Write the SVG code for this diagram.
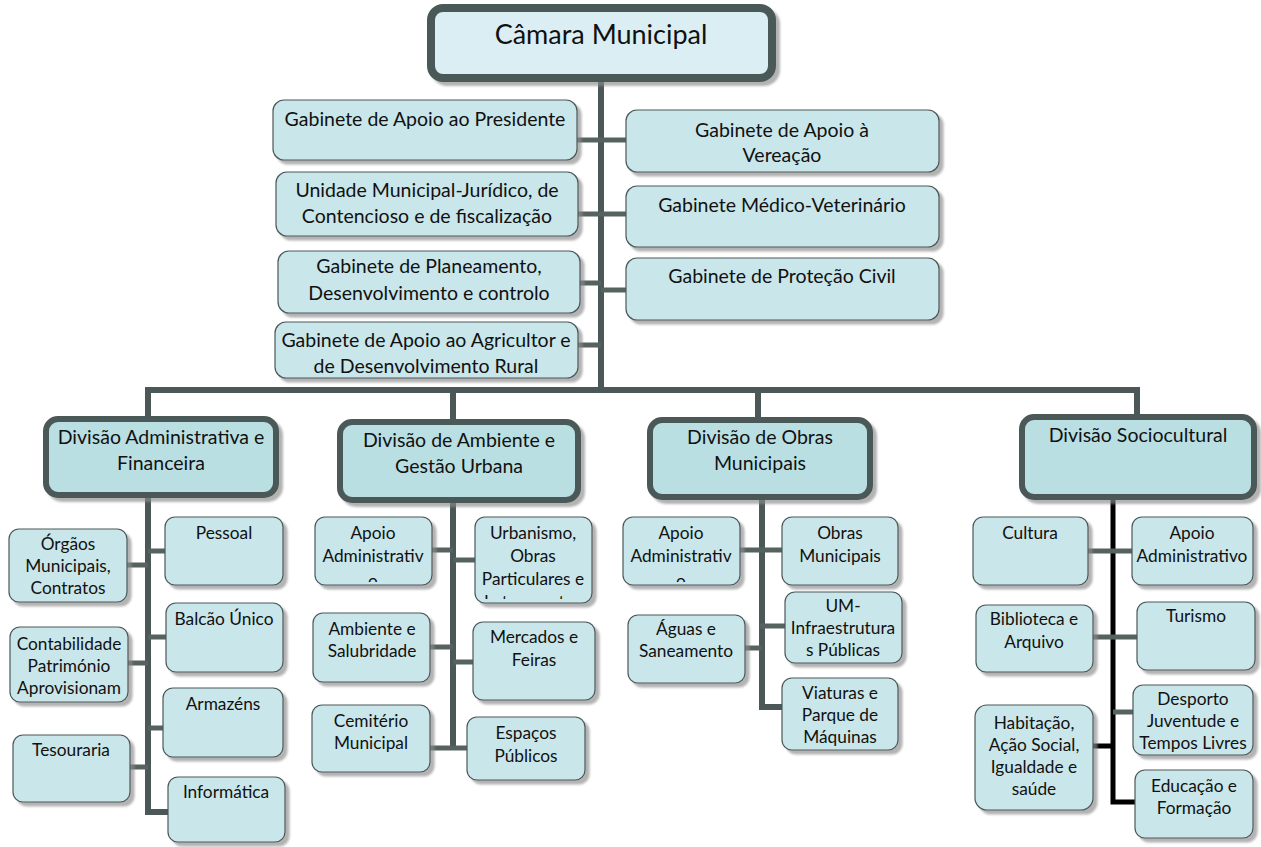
<svg xmlns="http://www.w3.org/2000/svg" width="1261" height="847" viewBox="0 0 1261 847">
<defs>
<filter id="sh" x="-10%" y="-10%" width="130%" height="140%">
<feDropShadow dx="4" dy="4" stdDeviation="1.2" flood-color="#8a8a8a" flood-opacity="0.65"/>
</filter>
<clipPath id="cA"><rect x="315" y="517" width="117" height="65"/></clipPath>
<clipPath id="cU"><rect x="475" y="517" width="117" height="82"/></clipPath>
<clipPath id="cO"><rect x="623" y="517" width="117" height="65"/></clipPath>
</defs>
<style>
.top{fill:#daeef3;stroke:#4c5858;stroke-width:8;filter:url(#sh)}
.dv{fill:#b9dfe3;stroke:#4c5858;stroke-width:6;filter:url(#sh)}
.bx{fill:#c9e6ea;stroke:#4c5858;stroke-width:1.2;filter:url(#sh)}
text{font-family:Lato,"Liberation Sans",sans-serif;fill:#111;text-anchor:middle}
.t0{font-size:27px}
.t1{font-size:19.5px}
.t2{font-size:19.5px}
.t3{font-size:17.3px}
.c{stroke:#4c5858;stroke-width:6;fill:none}
.s{stroke:#56625f;stroke-width:5;fill:none}
.k{stroke:#000;stroke-width:5;fill:none}
</style>

<g id="connectors">
<path class="c" d="M601 78V390M148 390H1137M148 387V418M453 387V420M758 387V418M1137 387V415"/>
<path class="s" d="M577 140H626M578 214H626M580 283H601M601 290H626M578 345H601"/>
<path class="c" d="M148 495V812H168"/>
<path class="s" d="M127 565H148M148 551H165M148 637H166M128 663H148M148 728H163M130 767H148"/>
<path class="c" d="M453 500V748"/>
<path class="s" d="M432 550H453M453 560H475M430 647H453M453 662H473M430 748H467"/>
<path class="c" d="M762 497V707H782"/>
<path class="s" d="M740 550H782M760 626H785M745 648H762"/>
<path class="k" d="M1113 497V802H1135"/>
<path class="s" d="M1088 551H1132M1093 637H1137M1113 712H1133"/>
<path class="k" d="M1093 746H1113"/>
</g>

<g id="camara"><rect class="top" x="431" y="8" width="341" height="70" rx="12"/><text class="t0" x="601" y="44">Câmara Municipal</text></g>

<g id="gab-presidente"><rect class="bx" x="273" y="100" width="304" height="60" rx="11"/><text class="t1" x="425" y="126">Gabinete de Apoio ao Presidente</text></g>
<g id="unidade-juridico"><rect class="bx" x="276" y="172" width="302" height="64" rx="11"/><text class="t1" x="427" y="197">Unidade Municipal-Jurídico, de</text><text class="t1" x="427" y="223">Contencioso e de fiscalização</text></g>
<g id="gab-planeamento"><rect class="bx" x="278" y="251" width="302" height="62" rx="11"/><text class="t1" x="429" y="273">Gabinete de Planeamento,</text><text class="t1" x="429" y="300">Desenvolvimento e controlo</text></g>
<g id="gab-agricultor"><rect class="bx" x="275" y="322" width="303" height="56" rx="11"/><text class="t1" x="426" y="347">Gabinete de Apoio ao Agricultor e</text><text class="t1" x="426" y="373">de Desenvolvimento Rural</text></g>
<g id="gab-vereacao"><rect class="bx" x="626" y="110" width="313" height="62" rx="11"/><text class="t1" x="782" y="137">Gabinete de Apoio à</text><text class="t1" x="782" y="162">Vereação</text></g>
<g id="gab-medico"><rect class="bx" x="626" y="186" width="313" height="61" rx="11"/><text class="t1" x="782" y="212">Gabinete Médico-Veterinário</text></g>
<g id="gab-protecao"><rect class="bx" x="626" y="258" width="313" height="62" rx="11"/><text class="t1" x="782" y="283">Gabinete de Proteção Civil</text></g>

<g id="div-adm"><rect class="dv" x="46" y="419" width="230" height="76" rx="12"/><text class="t2" x="161" y="444">Divisão Administrativa e</text><text class="t2" x="161" y="470">Financeira</text></g>
<g id="div-amb"><rect class="dv" x="340" y="422" width="238" height="78" rx="12"/><text class="t2" x="459" y="447">Divisão de Ambiente e</text><text class="t2" x="459" y="473">Gestão Urbana</text></g>
<g id="div-obras"><rect class="dv" x="650" y="420" width="220" height="77" rx="12"/><text class="t2" x="760" y="444">Divisão de Obras</text><text class="t2" x="760" y="470">Municipais</text></g>
<g id="div-socio"><rect class="dv" x="1022" y="417" width="232" height="80" rx="12"/><text class="t2" x="1138" y="442">Divisão Sociocultural</text></g>

<g id="orgaos"><rect class="bx" x="9" y="529" width="118" height="73" rx="10"/><text class="t3" x="68" y="550">Órgãos</text><text class="t3" x="68" y="572">Municipais,</text><text class="t3" x="68" y="594">Contratos</text></g>
<g id="pessoal"><rect class="bx" x="165" y="517" width="118" height="68" rx="10"/><text class="t3" x="224" y="539">Pessoal</text></g>
<g id="balcao"><rect class="bx" x="166" y="603" width="117" height="69" rx="10"/><text class="t3" x="224" y="625">Balcão Único</text></g>
<g id="contabilidade"><rect class="bx" x="10" y="627" width="118" height="75" rx="10"/><text class="t3" x="69" y="650">Contabilidade</text><text class="t3" x="69" y="672">Património</text><text class="t3" x="69" y="694">Aprovisionam</text></g>
<g id="armazens"><rect class="bx" x="163" y="688" width="120" height="69" rx="10"/><text class="t3" x="223" y="710">Armazéns</text></g>
<g id="tesouraria"><rect class="bx" x="13" y="735" width="117" height="67" rx="10"/><text class="t3" x="71" y="756">Tesouraria</text></g>
<g id="informatica"><rect class="bx" x="168" y="777" width="117" height="65" rx="10"/><text class="t3" x="226" y="798">Informática</text></g>

<g id="amb-apoio"><rect class="bx" x="315" y="517" width="117" height="68" rx="10"/><g clip-path="url(#cA)"><text class="t3" x="373" y="539">Apoio</text><text class="t3" x="373" y="562">Administrativ</text><text class="t3" x="373" y="587">o</text></g></g>
<g id="urbanismo"><rect class="bx" x="475" y="517" width="117" height="86" rx="10"/><g clip-path="url(#cU)"><text class="t3" x="533" y="539">Urbanismo,</text><text class="t3" x="533" y="562">Obras</text><text class="t3" x="533" y="585">Particulares e</text><text class="t3" x="533" y="608">Loteamentos</text></g></g>
<g id="ambiente"><rect class="bx" x="313" y="613" width="117" height="69" rx="10"/><text class="t3" x="372" y="635">Ambiente e</text><text class="t3" x="372" y="657">Salubridade</text></g>
<g id="mercados"><rect class="bx" x="473" y="622" width="122" height="78" rx="10"/><text class="t3" x="534" y="643">Mercados e</text><text class="t3" x="534" y="666">Feiras</text></g>
<g id="cemiterio"><rect class="bx" x="312" y="705" width="118" height="67" rx="10"/><text class="t3" x="371" y="727">Cemitério</text><text class="t3" x="371" y="749">Municipal</text></g>
<g id="espacos"><rect class="bx" x="467" y="717" width="118" height="63" rx="10"/><text class="t3" x="526" y="739">Espaços</text><text class="t3" x="526" y="762">Públicos</text></g>

<g id="obras-apoio"><rect class="bx" x="623" y="517" width="117" height="68" rx="10"/><g clip-path="url(#cO)"><text class="t3" x="681" y="539">Apoio</text><text class="t3" x="681" y="562">Administrativ</text><text class="t3" x="681" y="587">o</text></g></g>
<g id="obras-municipais"><rect class="bx" x="782" y="517" width="116" height="68" rx="10"/><text class="t3" x="840" y="539">Obras</text><text class="t3" x="840" y="562">Municipais</text></g>
<g id="um-infra"><rect class="bx" x="785" y="592" width="117" height="71" rx="10"/><text class="t3" x="843" y="612">UM-</text><text class="t3" x="843" y="634">Infraestrutura</text><text class="t3" x="843" y="656">s Públicas</text></g>
<g id="aguas"><rect class="bx" x="628" y="615" width="117" height="68" rx="10"/><text class="t3" x="686" y="635">Águas e</text><text class="t3" x="686" y="657">Saneamento</text></g>
<g id="viaturas"><rect class="bx" x="782" y="678" width="116" height="72" rx="10"/><text class="t3" x="840" y="699">Viaturas e</text><text class="t3" x="840" y="721">Parque de</text><text class="t3" x="840" y="743">Máquinas</text></g>

<g id="cultura"><rect class="bx" x="973" y="517" width="115" height="68" rx="10"/><text class="t3" x="1030" y="539">Cultura</text></g>
<g id="socio-apoio"><rect class="bx" x="1132" y="517" width="121" height="68" rx="10"/><text class="t3" x="1192" y="539">Apoio</text><text class="t3" x="1192" y="562">Administrativo</text></g>
<g id="biblioteca"><rect class="bx" x="976" y="605" width="117" height="67" rx="10"/><text class="t3" x="1034" y="625">Biblioteca e</text><text class="t3" x="1034" y="648">Arquivo</text></g>
<g id="turismo"><rect class="bx" x="1137" y="602" width="118" height="68" rx="10"/><text class="t3" x="1196" y="622">Turismo</text></g>
<g id="desporto"><rect class="bx" x="1133" y="685" width="120" height="70" rx="10"/><text class="t3" x="1193" y="705">Desporto</text><text class="t3" x="1193" y="727">Juventude e</text><text class="t3" x="1193" y="749">Tempos Livres</text></g>
<g id="habitacao"><rect class="bx" x="975" y="705" width="118" height="105" rx="12"/><text class="t3" x="1034" y="729">Habitação,</text><text class="t3" x="1034" y="751">Ação Social,</text><text class="t3" x="1034" y="773">Igualdade e</text><text class="t3" x="1034" y="795">saúde</text></g>
<g id="educacao"><rect class="bx" x="1135" y="770" width="118" height="68" rx="10"/><text class="t3" x="1194" y="792">Educação e</text><text class="t3" x="1194" y="814">Formação</text></g>
</svg>
